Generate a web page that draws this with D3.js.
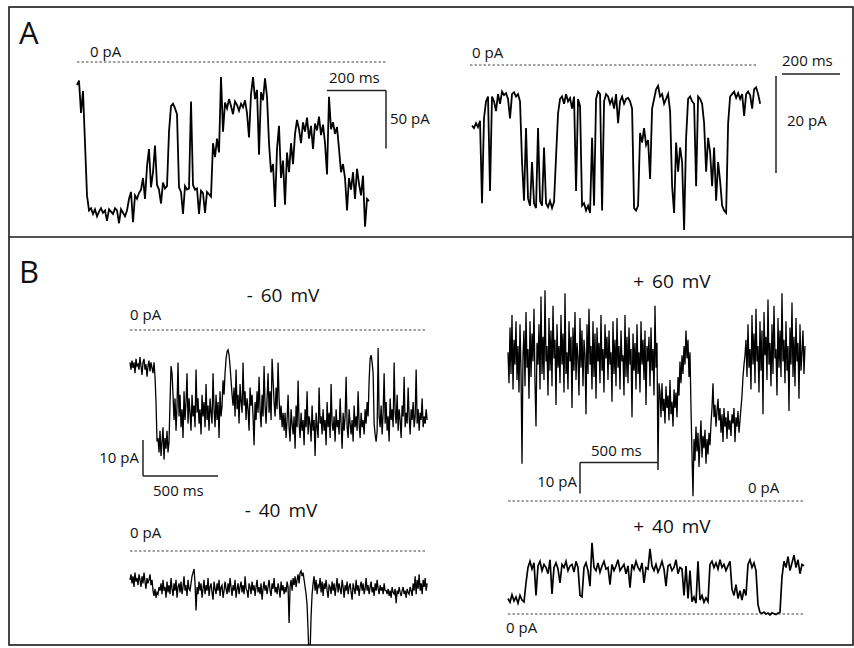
<!DOCTYPE html>
<html><head><meta charset="utf-8">
<script src="https://cdn.jsdelivr.net/npm/d3@7"></script>
<style>
body{margin:0;background:#fff}
svg{display:block}
text{font-family:"Open Sans","Noto Sans",sans-serif;fill:#111}
</style>
</head><body>
<svg id="c" width="854" height="648"></svg>
<script>
// ---------- DATA (current in pA, uniformly sampled) ----------
const traceA1 = [-20,-16,-44,-25,-70,-115,
-128,-126,-131,-127,-133,-129,-126,-130,-128,-137,-127,-129,-131,-126,-128,-139,-127,-130,-133,-128,
-118,-112,-138,-115,-118,-113,
-110,-100,-118,-90,-75,-108,-95,-72,
-106,-110,-122,-104,-109,-107,
-60,-38,-36,-40,-45,
-108,-112,-131,-107,-110,-109,
-34,
-106,-110,-109,-131,-111,-113,-130,-112,-114,-116,
-70,-82,-66,-78,
-13,
-60,-35,-40,-32,-38,-45,-34,-37,-42,-36,-39,-33,-44,
-65,-28,-13,-32,-24,-80,-26,-33,-14,-30,
-70,-95,-88,
-125,-75,-55,-100,-85,-123,-78,-95,-70,-88,
-62,-50,-58,-70,-52,-60,-48,-66,-55,-75,-53,-59,-47,-63,-54,-70,-97,-30,-58,-52,-62,-56,
-75,-95,-88,-100,
-128,-100,-110,-95,-118,-92,-105,-115,-98,
-142,-118,-120];

const traceA2 = [-12.5,-13,-12,-12.8,-11.5,
-28.5,-11,-7.5,-6.5,-26,
-6.5,-7.5,-9.5,-6,-8,-5.5,-6.2,-5.8,-7,-11,-6,-5.6,-6.5,-6,-7.5,
-20,
-28,-13,-27.5,-29,-20,-28.5,-29.5,-13,-28,-29,-17,-28.5,-29.3,-28,-29.5,-28.2,
-19,-10,
-7,-6.5,-8,-6,-7.5,-6.8,-9,-6.5,-26,-7,-8.5,
-29,-28.5,-30,-29,-30.5,-15,-29,
-7,-5.5,-6,
-30,
-7.5,-6,-6.5,-8,-7,-9,-6,-12,-7.5,-6.5,-8,-7,-6.8,-7.5,-9,
-29.5,-30,-29,
-14,-16,-13,-16.5,-15.5,
-23.5,
-9,-7,-5,-4.3,-6.5,-6,-8,-7,-6,-9.5,
-25,-30.5,
-16,-22,-17,-20,
-34,-15,
-7,-6.5,-7.5,-8,-25,-6.5,-7,-8,
-12,-22,-15,-18,-25,-17,-28,-20,-24,-29,
-30,-30.5,
-12,-6.5,-6,-5.5,-6.8,-5.8,-7,-6,-10.5,-6,-5.5,-6.2,-9,-5,-4.6,-6,-8];

const traceNeg60 = [-9,-11,-8.5,-10.5,-9,-12,-8,-10,-9.5,-11,-7.5,-10,-12.5,-9,-8,-11,-9.5,-13,-10,-8.5,-11.5,-9,-10.5,-12,-9,-13,
-20,-31,
-30,-34,-28,-35,-31,-27,-36,-30,-33,-28,-34,-31,
-20,-10,-12,-18,
-25,-19,-28,-21,-9,-24,-18,-27,-22,-30,-17,-25,-20,-12,-26,-19,-23,-28,-18,-24,-21,-27,-11,-23,-19,-26,-22,-29,-18,-24,-20,-27,-15,-25,-21,-28,-19,-23,-26,-12,-22,-27,-18,-25,-20,-30,-17,-24,-21,-14,-18,
-12,-8,-6,-5.5,-7,-10,-14,-18,
-21,-16,-24,-11,-22,-18,-26,-15,-20,-23,-9,-21,-17,-25,-19,-22,-28,-16,-21,-18,-24,
-32,-20,-25,-17,-23,-13,-22,-27,-18,-24,-10,-21,-26,-19,-12,-23,-17,-25,-8,-14,-20,-24,-16,-22,-9,-19,-25,-21,-27,-23,
-28,-23,-30,-25,-18,-27,-31,-22,-26,-29,-24,-33,-21,-27,-14,-26,-30,-23,-28,-25,
-32,-22,-27,-17,-29,-24,-26,-31,-21,-28,-25,-35,-23,-27,-30,-16,-26,-24,-29,-22,
-28,-25,-32,-20,-27,-23,-30,-15,-26,-28,-24,-31,-22,-27,-25,-29,-19,-26,-33,-23,
-28,-24,-13,-27,-30,-22,-26,-29,-25,-31,-21,-27,-24,-28,-17,-26,-30,-23,-27,-25,
-29,-22,-26,-20,-24,
-14,-8,-7,-9,-12,
-26,-29,-31,-28,-5,-24,
-27,-21,-29,-23,-12,-26,-20,-28,-24,-31,-19,-25,-22,-27,-9,-23,-26,-18,-28,-22,
-25,-30,-21,-24,-13,-27,-23,-26,-16,-24,-29,-22,-25,-20,-27,-24,-11,-26,-22,-28,
-23,-25,-19,-27,-24,-26,-22,-25];

const traceNeg40 = [-8,-6.5,-9,-7,-10,-6,-8.5,-7.5,-9.5,-6.5,-8,-10,-7,-9,-6,-8.5,-10.5,-7.5,-9,-8,-6.5,-9.5,-8,
-11,-12.5,-10.5,-13,-11.5,-12,-10,-11,
-9,-12,-8,-11,-10,-13,-8.5,-11.5,-9.5,-12,-7.5,-10.5,-12.5,-9,-11,-8,-13,-10,-9,-11.5,-8.5,-12,-10,-7,-11,-9.5,-12.5,-8,-10.5,-11,-9,-7,-6,
-5,-9,-16.5,
-10,-12,-8.5,-11,-9,-13,-10.5,-8,-12,-9.5,
-11,-7.5,-12.5,-10,-9,-11.5,-13.5,-8.5,-10.5,-12,
-9,-11,-8,-12.5,-10,-9.5,-13,-11,-8.5,-10.5,
-12,-9,-11.5,-7.5,-10,-12.5,-9.5,-11,-8,-13,
-10.5,-9,-12,-10,-8.5,-11.5,-9.5,-12,-7,-10.5,
-11,-13,-9,-10,-12,-8.5,-11,-9.5,-12.5,-10,
-8,-11.5,-10,-12,-9,-13.5,-10.5,-8.5,-11,-9.5,
-12,-10,-8,-11,-12.5,-9,-10.5,-7.5,-11.5,-10,
-12,-9,-10.5,-13,-8.5,-11,-9.5,-12,-10,-11.5,
-8.5,-10,
-20,
-10,-8,-11,-7.5,-9.5,-7,-10,-8,-6.5,-9,
-6,-5.5,-7,-6,-8,
-10,-12,-15,-22,-30,-28,-18,-12,
-9,-7,-11,-8,-12,-9.5,-10,-7.5,-11.5,-8.5,
-12.5,-9,-10.5,-8,-11,-13,-9.5,-10,-12,-8.5,
-11,-9,-12.5,-10,-7.5,-11.5,-9,-10.5,-12,-8,
-10,-13,-9.5,-11,-8.5,-12,-10,-9,-11.5,-13.5,
-9,-10.5,-12,-8,-11,-9.5,-12.5,-10,-8.5,-11,
-9,-12,-10.5,-7.5,-11,-9.5,-12,-10,-8.5,-11.5,
-10,-12.5,-9,-11,-8,-10.5,-12,-9.5,-11,-10,
-12,-9,-11,
-11,-12,-10.5,-12.5,-11,-13,-10,-11.5,-12,-10.5,-14.5,-11,-12,-10,-11.5,-12.5,-11,-10,-12,-11,-13,-10.5,-11.5,-12,-10,-11,-12.5,
-9,-11,-7,-12,-8,-10.5,-6.5,-11,-9,-12,-8,-10,-7.5,-11,-9];

const tracePos60 = [48,38,56,41,60,36,52,44,58,39,
50,35,57,42,12,47,55,37,61,43,
49,33,58,40,54,45,62,38,24,51,
44,57,36,66,41,53,39,68,45,50,
34,59,42,55,37,63,46,52,31,57,
43,50,38,60,44,54,35,67,41,48,
36,58,45,53,30,56,42,61,39,51,
46,34,59,43,55,37,52,47,28,57,
41,62,44,50,36,58,40,54,33,56,
45,51,38,60,42,49,35,57,46,53,
39,55,44,48,32,58,41,52,37,59,
43,50,36,55,45,47,34,60,40,53,
38,56,44,49,27,54,42,51,36,57,
41,48,35,58,44,52,39,55,31,50,
45,53,37,56,42,49,34,63,43,51,
10,38,
35,27,38,29,33,25,37,30,34,26,39,28,32,24,36,30,35,27,
40,34,45,38,47,41,50,44,55,46,52,40,48,
30,15,1.5,
20,13,24,16,22,11,19,26,14,21,17,23,12,20,15,22,18,
25,30,38,27,31,24,29,33,26,30,
22,28,19,30,24,27,20,29,23,26,21,28,25,30,19,27,24,29,22,26,
30,34,40,44,47,
52,40,57,43,49,36,60,44,54,38,
62,45,50,35,58,42,55,28,61,47,
53,39,65,44,51,37,57,41,63,46,
49,34,59,43,55,40,67,45,52,38,
58,42,50,29,56,44,64,40,53,37,
59,45,51,33,57,42,48,55,41,50];

const tracePos40 = [5,3.8,6.2,4.2,5.5,3.5,6,4.5,3.9,
10,
15,17,14.5,16.5,6,15.5,17,14,16,15,13,17.5,6.5,15,16.5,14.5,10,16,15,17,14,15.5,16,13.5,17,15,
6,5.5,
15,16.5,14,9,
23,
15,14,16.5,13.5,15.5,17,14.5,15,9.5,16,14,15.5,17.5,14,15,16,13,15.5,8.5,16,14.5,17,15,14,16.5,10,15,14.5,21,15.5,14,16,13.5,15,17,14.5,9,15.5,16,14,15,17.5,13,15,14.5,
6,15.5,
5,14,4,
5.5,3.5,17,4.5,6,3.8,5.2,4,
16,17,15,16.5,14.5,17.5,15,16,14,15.5,17,
8,6,9.5,5,7.5,4.5,8,6,
16,17.5,15,16.5,14,
3,0.5,0.2,0.6,0,0.3,-0.3,0.4,0.1,-0.2,0.3,0.5,
12,17,15,18.5,14,16.5,19,15,17.5,13,16,15.5];

const panelLetters = ["A", "B"];
const voltageTitles = ["- 60 mV", "- 40 mV", "+ 60 mV", "+ 40 mV"];
const zeroLabel = "0 pA";
const scaleBarMs = [200, 200, 500, 500];
const scaleBarPA = [50, 20, 10, 10];

// ---------- LAYOUT ----------
const svg = d3.select("#c");

svg.append("defs").append("clipPath").attr("id","frame")
  .append("rect").attr("x",9).attr("y",7).attr("width",844).attr("height",638);

const traces = [
  {data: traceA1,   dt: 6.78, x0: 77,  zeroY: 62,  pxPerPA: 1.16, pxPerMs: 0.295, dash:[77,387],  lbl:[90,57],  sw:1.8},
  {data: traceA2,   dt: 6.9,  x0: 472, zeroY: 65,  pxPerPA: 4.85, pxPerMs: 0.29,  dash:[470,757], lbl:[472,58], sw:1.8},
  {data: traceNeg60,dt: 6.67, x0: 130, zeroY: 330, pxPerPA: 3.6,  pxPerMs: 0.15,  dash:[130,427], lbl:[130,320], sw:1.3},
  {data: traceNeg40,dt: 6.67, x0: 130, zeroY: 551, pxPerPA: 3.6,  pxPerMs: 0.15,  dash:[130,427], lbl:[130,538], sw:1.3},
  {data: tracePos60,dt: 6.41, x0: 508, zeroY: 501, pxPerPA: 3.1,  pxPerMs: 0.156, dash:[508,803], lbl:[748,493], sw:1.3},
  {data: tracePos40,dt: 12.82,x0: 508, zeroY: 614, pxPerPA: 3.1,  pxPerMs: 0.156, dash:[508,803], lbl:[506,633], sw:1.7}
];

traces.forEach(tr => {
  const T = (tr.data.length - 1) * tr.dt;
  tr.x = d3.scaleLinear().domain([0, T]).range([tr.x0, tr.x0 + T * tr.pxPerMs]);
  tr.y = d3.scaleLinear().domain([0, -100]).range([tr.zeroY, tr.zeroY + 100 * tr.pxPerPA]);
});

// frame
const frame = svg.append("g");
frame.append("rect").attr("x",9).attr("y",7).attr("width",844).attr("height",638)
  .attr("fill","none").attr("stroke","#1a1a1a").attr("stroke-width",1.6);
frame.append("line").attr("x1",9).attr("x2",853).attr("y1",237).attr("y2",237)
  .attr("stroke","#1a1a1a").attr("stroke-width",1.6);

// panel letters
svg.selectAll("text.letter").data(panelLetters).join("text")
  .attr("class","letter").attr("x",19).attr("y",(d,i)=> i===0 ? 44 : 283)
  .attr("font-size",31).text(d=>d);

// zero lines, labels, traces
const g = svg.append("g").attr("clip-path","url(#frame)");
traces.forEach(tr => {
  g.append("line").attr("x1",tr.dash[0]).attr("x2",tr.dash[1])
    .attr("y1",tr.y(0)).attr("y2",tr.y(0))
    .attr("stroke","#444").attr("stroke-width",1).attr("stroke-dasharray","2.5,2");
  svg.append("text").attr("x",tr.lbl[0]).attr("y",tr.lbl[1]).attr("font-size",15).text(zeroLabel);
  const line = d3.line().x((d,i)=>tr.x(i*tr.dt)).y(d=>tr.y(d));
  g.append("path").datum(tr.data).attr("d",line)
    .attr("fill","none").attr("stroke","#000").attr("stroke-width",tr.sw).attr("stroke-linejoin","miter");
});

// voltage titles
const titlePos = [[283,302],[281,517],[672,288],[672,533]];
svg.selectAll("text.title").data(voltageTitles).join("text")
  .attr("class","title").attr("text-anchor","middle")
  .attr("x",(d,i)=>titlePos[i][0]).attr("y",(d,i)=>titlePos[i][1])
  .attr("font-size",19).attr("word-spacing",3).text(d=>d);

// scale bars
function bar(x1,y1,x2,y2){
  svg.append("line").attr("x1",x1).attr("y1",y1).attr("x2",x2).attr("y2",y2)
    .attr("stroke","#222").attr("stroke-width",1.5);
}
function label(x,y,t,anchor){
  svg.append("text").attr("x",x).attr("y",y).attr("font-size",15)
    .attr("text-anchor",anchor||"start").text(t);
}
{
  const tr = traces[0];
  const L = tr.x(scaleBarMs[0]) - tr.x(0), V = tr.y(-scaleBarPA[0]) - tr.y(0);
  bar(327,90.5,327+L,90.5); bar(327+L,90.5,327+L,90.5+V);
  label(329,83,scaleBarMs[0]+" ms"); label(390,124,scaleBarPA[0]+" pA");
}
{
  const tr = traces[1];
  const L = tr.x(scaleBarMs[1]) - tr.x(0), V = tr.y(-scaleBarPA[1]) - tr.y(0);
  bar(782,74,782+L,74); bar(776,76,776,76+V);
  label(782,66,scaleBarMs[1]+" ms"); label(787,126,scaleBarPA[1]+" pA");
}
{
  const tr = traces[2];
  const L = tr.x(scaleBarMs[2]) - tr.x(0), V = tr.y(-scaleBarPA[2]) - tr.y(0);
  bar(143,476,143+L,476); bar(143,476-V,143,476);
  label(139,463,scaleBarPA[2]+" pA","end"); label(153,496,scaleBarMs[2]+" ms");
}
{
  const tr = traces[4];
  const L = tr.x(scaleBarMs[3]) - tr.x(0), V = tr.y(-scaleBarPA[3]) - tr.y(0);
  bar(580,462.5,580+L,462.5); bar(580,462.5,580,462.5+V);
  label(591,456,scaleBarMs[3]+" ms"); label(577,487,scaleBarPA[3]+" pA","end");
}
</script>
</body></html>
